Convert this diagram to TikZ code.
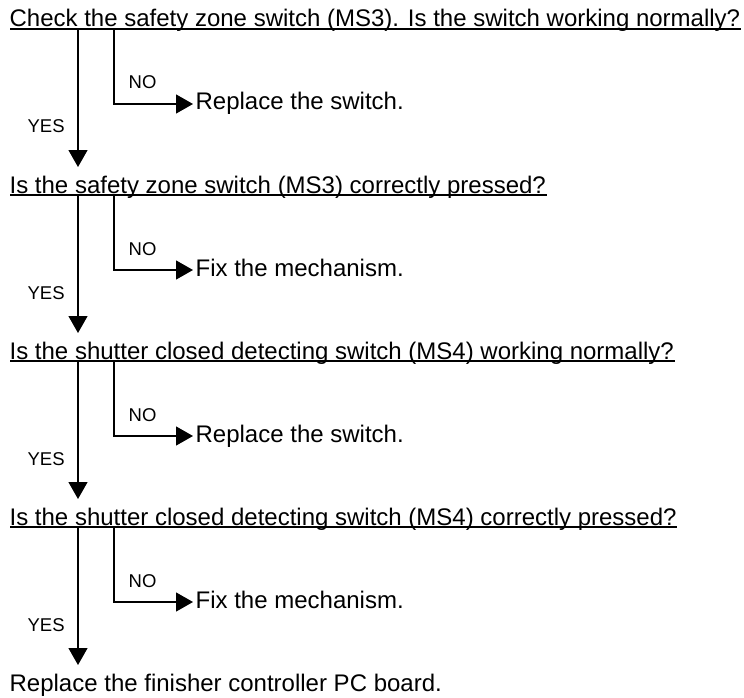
\documentclass[tikz,border=0pt]{standalone}
\usepackage{fontspec}
\setmainfont{Liberation Sans}
\usetikzlibrary{arrows.meta, calc}

\begin{document}
\begin{tikzpicture}[x=1pt, y=-1pt, >={Triangle[length=17pt,width=19pt]}, line width=1.3pt,
  every node/.style={inner sep=0pt, anchor=base west},
  quest/.style={font=\fontsize{24}{28}\selectfont},
  answer/.style={font=\fontsize{24}{28}\selectfont},
  yesno/.style={font=\fontsize{18.5}{22}\selectfont}]
  \useasboundingbox (0,0) rectangle (744,698);

  % questions and the last step
  \node[quest] (q1) at (9,27)  {Check the safety zone switch (MS3). Is the switch working normally?};
  \node[quest] (q2) at (9,193) {Is the safety zone switch (MS3) correctly pressed?};
  \node[quest] (q3) at (9,359) {Is the shutter closed detecting switch (MS4) working normally?};
  \node[quest] (q4) at (9,525) {Is the shutter closed detecting switch (MS4) correctly pressed?};
  \node[quest] (q5) at (9,691) {Replace the finisher controller PC board.};

  % what to do on NO
  \node[answer] (a1) at (195,110) {Replace the switch.};
  \node[answer] (a2) at (195,276) {Fix the mechanism.};
  \node[answer] (a3) at (195,442) {Replace the switch.};
  \node[answer] (a4) at (195,608) {Fix the mechanism.};

  \node[yesno] (n1) at (128,89)  {NO};  \node[yesno] (y1) at (27,133) {YES};
  \node[yesno] (n2) at (128,255) {NO};  \node[yesno] (y2) at (27,299) {YES};
  \node[yesno] (n3) at (128,421) {NO};  \node[yesno] (y3) at (27,465) {YES};
  \node[yesno] (n4) at (128,587) {NO};  \node[yesno] (y4) at (27,631) {YES};

  % underlines
  \draw ($(q1.base west)+(1,2)$) -- ($(q1.base east)+(0,2)$);
  \draw ($(q2.base west)+(1,2)$) -- ($(q2.base east)+(0,2)$);
  \draw ($(q3.base west)+(1,2)$) -- ($(q3.base east)+(0,2)$);
  \draw ($(q4.base west)+(1,2)$) -- ($(q4.base east)+(0,2)$);

  % YES goes down, NO goes right
  \draw[->] ($(q1.base west)+(69,2)$) -- ($(q2.base west)+(69,-26)$);
  \draw[->] ($(q1.base west)+(105,2)$) |- ($(a1.base west)+(-2,-6)$);
  \draw[->] ($(q2.base west)+(69,2)$) -- ($(q3.base west)+(69,-26)$);
  \draw[->] ($(q2.base west)+(105,2)$) |- ($(a2.base west)+(-2,-6)$);
  \draw[->] ($(q3.base west)+(69,2)$) -- ($(q4.base west)+(69,-26)$);
  \draw[->] ($(q3.base west)+(105,2)$) |- ($(a3.base west)+(-2,-6)$);
  \draw[->] ($(q4.base west)+(69,2)$) -- ($(q5.base west)+(69,-26)$);
  \draw[->] ($(q4.base west)+(105,2)$) |- ($(a4.base west)+(-2,-6)$);
\end{tikzpicture}
\end{document}
